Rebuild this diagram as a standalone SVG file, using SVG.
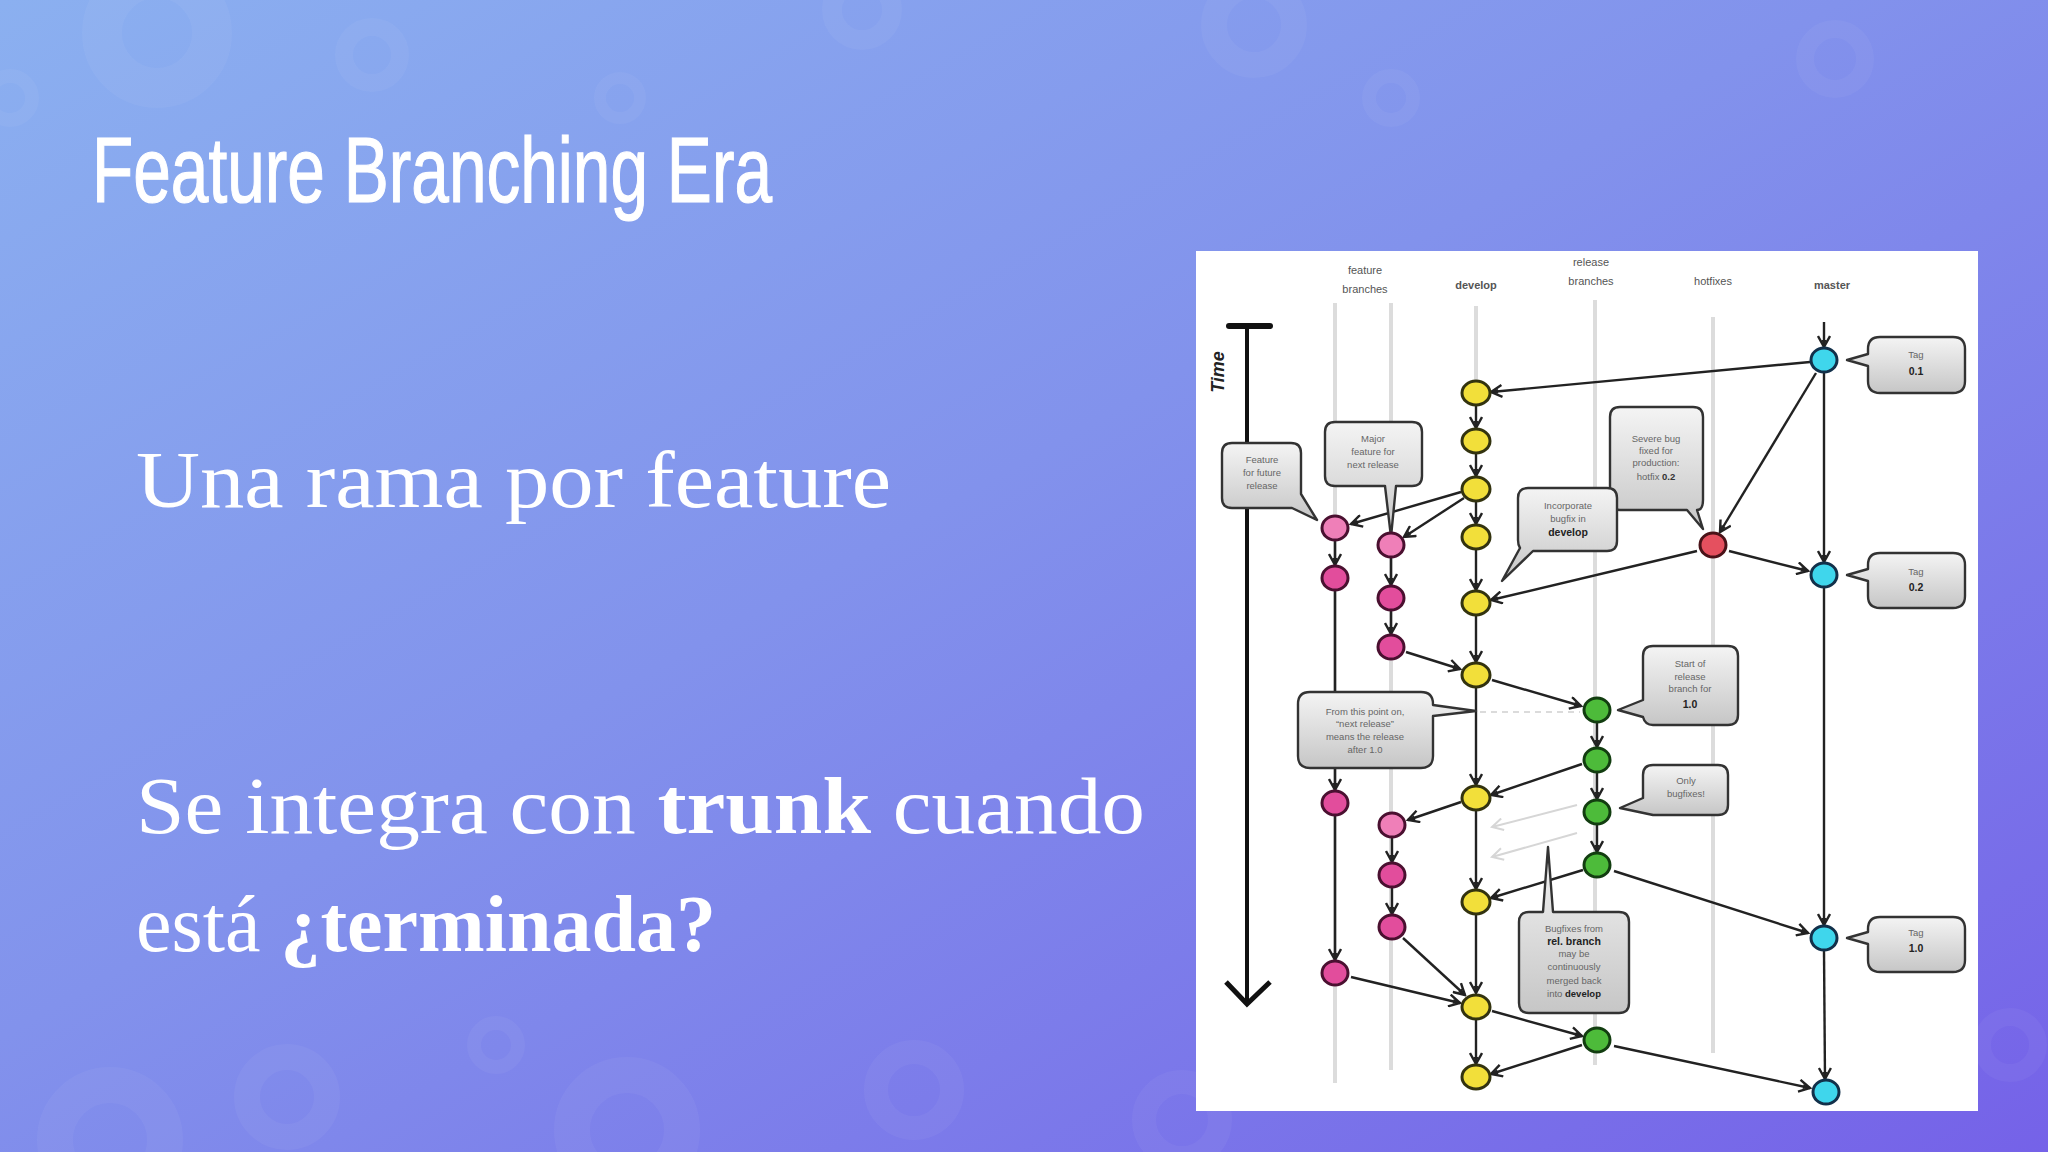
<svg xmlns="http://www.w3.org/2000/svg" width="2048" height="1152" viewBox="0 0 2048 1152">
<defs>
<linearGradient id="bg" x1="0" y1="0" x2="1" y2="1">
<stop offset="0" stop-color="#8bb0f0"/>
<stop offset="0.45" stop-color="#8292ec"/>
<stop offset="1" stop-color="#7562e8"/>
</linearGradient>
<linearGradient id="cg" x1="0" y1="0" x2="0" y2="1">
<stop offset="0" stop-color="#f4f4f4"/>
<stop offset="1" stop-color="#c6c6c6"/>
</linearGradient>
<marker id="ah" viewBox="0 0 14 14" refX="12" refY="7" markerWidth="14" markerHeight="14" markerUnits="userSpaceOnUse" orient="auto">
<path d="M1,1 L12,7 L1,13" fill="none" stroke="#222" stroke-width="2.4"/>
<path d="M5,4.5 L12,7 L5,9.5 Z" fill="#222"/>
</marker>
<marker id="ahl" viewBox="0 0 14 14" refX="12" refY="7" markerWidth="14" markerHeight="14" markerUnits="userSpaceOnUse" orient="auto">
<path d="M1,1 L12,7 L1,13" fill="none" stroke="#d6d6d6" stroke-width="2"/>
</marker>
</defs>
<style>
.ring{fill:none;stroke:#ffffff;stroke-opacity:0.045}
.title{font-family:"Liberation Sans",Arial,sans-serif;fill:#ffffff;stroke:#ffffff;stroke-width:1.2}
.body{font-family:"Liberation Serif","Times New Roman",serif;fill:#ffffff;font-size:80px}
.b{font-weight:bold}
.hdr{font-family:"Liberation Sans",Arial,sans-serif;font-size:11px;fill:#555;text-anchor:middle}
.lane{stroke:#dcdcdc;stroke-width:4;fill:none}
.c{stroke:#222;stroke-width:2.4;fill:none;marker-end:url(#ah)}
.faint{stroke:#d6d6d6;stroke-width:2;fill:none;marker-end:url(#ahl)}
.call{fill:url(#cg);stroke:#333;stroke-width:2.4;stroke-linejoin:round}
.ct{font-family:"Liberation Sans",Arial,sans-serif;font-size:9.5px;fill:#666;text-anchor:middle}
.ctb{font-family:"Liberation Sans",Arial,sans-serif;font-size:10.5px;fill:#222;font-weight:bold;text-anchor:middle}
.dev{fill:#f2df3a;stroke:#33330f;stroke-width:3}
.feat{fill:#e24d9c;stroke:#4a1030;stroke-width:3}
.featl{fill:#ef7fb8;stroke:#4a1030;stroke-width:3}
.rel{fill:#4dbb3a;stroke:#123d10;stroke-width:3}
.hot{fill:#e5505f;stroke:#4a1218;stroke-width:3}
.mas{fill:#3fd6ec;stroke:#12304a;stroke-width:3}
</style>

<rect x="0" y="0" width="2048" height="1152" fill="url(#bg)"/>
<g id="decor">
<circle class="ring" cx="157" cy="33" r="55" stroke-width="40"/>
<circle class="ring" cx="372" cy="55" r="28" stroke-width="18"/>
<circle class="ring" cx="620" cy="98" r="20" stroke-width="12"/>
<circle class="ring" cx="10" cy="98" r="22" stroke-width="14"/>
<circle class="ring" cx="862" cy="10" r="30" stroke-width="20"/>
<circle class="ring" cx="1391" cy="98" r="22" stroke-width="14"/>
<circle class="ring" cx="1835" cy="59" r="30" stroke-width="18"/>
<circle class="ring" cx="1254" cy="25" r="40" stroke-width="26"/>
<circle class="ring" cx="496" cy="1045" r="22" stroke-width="14"/>
<circle class="ring" cx="287" cy="1097" r="40" stroke-width="26"/>
<circle class="ring" cx="110" cy="1140" r="55" stroke-width="36"/>
<circle class="ring" cx="914" cy="1090" r="38" stroke-width="24"/>
<circle class="ring" cx="627" cy="1130" r="55" stroke-width="36"/>
<circle class="ring" cx="1182" cy="1120" r="38" stroke-width="24"/>
<circle class="ring" cx="2010" cy="1045" r="28" stroke-width="18"/>
</g>

<g id="slide-text">
<text class="title" x="92" y="202" font-size="92" textLength="680" lengthAdjust="spacingAndGlyphs">Feature Branching Era</text>
<text class="body" x="136" y="507" textLength="755" lengthAdjust="spacingAndGlyphs">Una rama por feature</text>
<text class="body" x="136" y="833" textLength="1009" lengthAdjust="spacingAndGlyphs">Se integra con <tspan class="b">trunk</tspan> cuando</text>
<text class="body" x="136" y="951" textLength="580" lengthAdjust="spacingAndGlyphs">está <tspan class="b">¿terminada?</tspan></text>
</g>

<g id="panel">
<rect x="1196" y="251" width="782" height="860" fill="#ffffff"/>
</g>

<g id="headers">
<text class="hdr" x="1365" y="274">feature</text>
<text class="hdr" x="1365" y="293">branches</text>
<text class="hdr b" x="1476" y="289" fill="#333">develop</text>
<text class="hdr" x="1591" y="266">release</text>
<text class="hdr" x="1591" y="285">branches</text>
<text class="hdr" x="1713" y="285">hotfixes</text>
<text class="hdr b" x="1832" y="289" fill="#333">master</text>
</g>

<g id="lanes">
<line class="lane" x1="1335" y1="303" x2="1335" y2="1083"/>
<line class="lane" x1="1391" y1="303" x2="1391" y2="1070"/>
<line class="lane" x1="1476" y1="306" x2="1476" y2="385"/>
<line class="lane" x1="1595" y1="300" x2="1595" y2="1065"/>
<line class="lane" x1="1713" y1="317" x2="1713" y2="1053"/>
</g>

<g id="time-axis">
<line x1="1229" y1="326" x2="1270" y2="326" stroke="#111" stroke-width="6" stroke-linecap="round"/>
<line x1="1247" y1="326" x2="1247" y2="1003" stroke="#111" stroke-width="4"/>
<polyline points="1226,982 1247,1004 1270,982" fill="none" stroke="#111" stroke-width="5"/>
<text x="1224" y="372" transform="rotate(-90 1224 372)" font-family="Liberation Sans, Arial, sans-serif" font-size="18" font-weight="bold" font-style="italic" fill="#222" text-anchor="middle">Time</text>
</g>

<g id="connectors">
<line class="c" x1="1824" y1="322" x2="1824" y2="347"/>
<line class="c" x1="1810" y1="362" x2="1491" y2="392"/>
<line class="c" x1="1816" y1="373" x2="1720" y2="532"/>
<line class="c" x1="1824" y1="373" x2="1824" y2="562"/>
<line class="c" x1="1729" y1="551" x2="1808" y2="571"/>
<line class="c" x1="1697" y1="551" x2="1491" y2="600"/>
<line class="c" x1="1824" y1="588" x2="1824" y2="925"/>
<line class="c" x1="1824" y1="951" x2="1825" y2="1079"/>
<line class="c" x1="1614" y1="871" x2="1808" y2="933"/>
<line class="c" x1="1614" y1="1046" x2="1810" y2="1088"/>

<line class="c" x1="1476" y1="406" x2="1476" y2="428"/>
<line class="c" x1="1476" y1="454" x2="1476" y2="476"/>
<line class="c" x1="1476" y1="502" x2="1476" y2="524"/>
<line class="c" x1="1476" y1="550" x2="1476" y2="590"/>
<line class="c" x1="1476" y1="616" x2="1476" y2="662"/>
<line class="c" x1="1476" y1="688" x2="1476" y2="785"/>
<line class="c" x1="1476" y1="811" x2="1476" y2="889"/>
<line class="c" x1="1476" y1="915" x2="1476" y2="993"/>
<line class="c" x1="1476" y1="1020" x2="1476" y2="1064"/>

<line class="c" x1="1461" y1="492" x2="1351" y2="524"/>
<line class="c" x1="1464" y1="498" x2="1404" y2="537"/>
<line class="c" x1="1335" y1="541" x2="1335" y2="565"/>
<line class="c" x1="1335" y1="591" x2="1335" y2="790"/>
<line class="c" x1="1335" y1="816" x2="1335" y2="960"/>
<line class="c" x1="1351" y1="977" x2="1460" y2="1003"/>
<line class="c" x1="1391" y1="558" x2="1391" y2="585"/>
<line class="c" x1="1391" y1="611" x2="1391" y2="634"/>
<line class="c" x1="1406" y1="652" x2="1460" y2="669"/>
<line class="c" x1="1461" y1="802" x2="1408" y2="820"/>
<line class="c" x1="1392" y1="838" x2="1392" y2="862"/>
<line class="c" x1="1392" y1="888" x2="1392" y2="914"/>
<line class="c" x1="1403" y1="938" x2="1465" y2="995"/>

<line class="c" x1="1492" y1="680" x2="1581" y2="706"/>
<line x1="1480" y1="712" x2="1580" y2="712" stroke="#d0d0d0" stroke-width="1.5" stroke-dasharray="6,5"/>
<line class="c" x1="1597" y1="723" x2="1597" y2="747"/>
<line class="c" x1="1597" y1="773" x2="1597" y2="799"/>
<line class="c" x1="1597" y1="825" x2="1597" y2="852"/>
<line class="c" x1="1582" y1="764" x2="1491" y2="795"/>
<line class="faint" x1="1577" y1="805" x2="1492" y2="827"/>
<line class="faint" x1="1577" y1="833" x2="1492" y2="857"/>
<line class="c" x1="1583" y1="870" x2="1491" y2="898"/>
<line class="c" x1="1492" y1="1011" x2="1582" y2="1036"/>
<line class="c" x1="1582" y1="1045" x2="1491" y2="1074"/>
</g>

<g id="callout-feature-future">
<path class="call" d="M1232,443 H1291 Q1301,443 1301,453 V494 L1317,520 L1292,508 H1232 Q1222,508 1222,498 V453 Q1222,443 1232,443 Z"/>
<text class="ct" x="1262" y="463">Feature</text>
<text class="ct" x="1262" y="476">for future</text>
<text class="ct" x="1262" y="489">release</text>
</g>
<g id="callout-major-feature">
<path class="call" d="M1335,422 H1412 Q1422,422 1422,432 V476 Q1422,486 1412,486 H1396 L1391,537 L1385,486 H1335 Q1325,486 1325,476 V432 Q1325,422 1335,422 Z"/>
<text class="ct" x="1373" y="442">Major</text>
<text class="ct" x="1373" y="455">feature for</text>
<text class="ct" x="1373" y="468">next release</text>
</g>
<g id="callout-severe-bug">
<path class="call" d="M1620,407 H1693 Q1703,407 1703,417 V500 Q1703,510 1697,510 L1703,529 L1687,510 H1620 Q1610,510 1610,500 V417 Q1610,407 1620,407 Z"/>
<text class="ct" x="1656" y="442">Severe bug</text>
<text class="ct" x="1656" y="454">fixed for</text>
<text class="ct" x="1656" y="466">production:</text>
<text class="ct" x="1656" y="480">hotfix <tspan font-weight="bold" fill="#333">0.2</tspan></text>
</g>
<g id="callout-incorporate">
<path class="call" d="M1528,488 H1607 Q1617,488 1617,498 V541 Q1617,551 1607,551 H1533 L1502,581 L1520,548 Q1518,545 1518,540 V498 Q1518,488 1528,488 Z"/>
<text class="ct" x="1568" y="509">Incorporate</text>
<text class="ct" x="1568" y="522">bugfix in</text>
<text class="ctb" x="1568" y="536">develop</text>
</g>
<g id="callout-tag01">
<path class="call" d="M1880,337 H1953 Q1965,337 1965,349 V381 Q1965,393 1953,393 H1880 Q1868,393 1868,381 V366 L1847,360 L1868,354 V349 Q1868,337 1880,337 Z"/>
<text class="ct" x="1916" y="358">Tag</text>
<text class="ctb" x="1916" y="375" font-size="13">0.1</text>
</g>
<g id="callout-tag02">
<path class="call" d="M1880,553 H1953 Q1965,553 1965,565 V596 Q1965,608 1953,608 H1880 Q1868,608 1868,596 V581 L1847,575 L1868,569 V565 Q1868,553 1880,553 Z"/>
<text class="ct" x="1916" y="575">Tag</text>
<text class="ctb" x="1916" y="591" font-size="13">0.2</text>
</g>
<g id="callout-tag10">
<path class="call" d="M1880,917 H1953 Q1965,917 1965,929 V960 Q1965,972 1953,972 H1880 Q1868,972 1868,960 V944 L1847,938 L1868,932 V929 Q1868,917 1880,917 Z"/>
<text class="ct" x="1916" y="936">Tag</text>
<text class="ctb" x="1916" y="952" font-size="13">1.0</text>
</g>
<g id="callout-start-release">
<path class="call" d="M1653,646 H1728 Q1738,646 1738,656 V715 Q1738,725 1728,725 H1653 Q1645,725 1643,717 L1618,710 L1643,700 V656 Q1643,646 1653,646 Z"/>
<text class="ct" x="1690" y="667">Start of</text>
<text class="ct" x="1690" y="680">release</text>
<text class="ct" x="1690" y="692">branch for</text>
<text class="ctb" x="1690" y="708" font-size="12">1.0</text>
</g>
<g id="callout-only-bugfixes">
<path class="call" d="M1653,765 H1718 Q1728,765 1728,775 V805 Q1728,815 1718,815 H1653 L1620,808 L1643,798 V775 Q1643,765 1653,765 Z"/>
<text class="ct" x="1686" y="784">Only</text>
<text class="ct" x="1686" y="797">bugfixes!</text>
</g>
<g id="callout-next-release">
<path class="call" d="M1310,692 H1421 Q1433,692 1433,704 V705 L1476,711 L1433,716 V756 Q1433,768 1421,768 H1310 Q1298,768 1298,756 V704 Q1298,692 1310,692 Z"/>
<text class="ct" x="1365" y="715">From this point on,</text>
<text class="ct" x="1365" y="727">“next release”</text>
<text class="ct" x="1365" y="740">means the release</text>
<text class="ct" x="1365" y="753">after 1.0</text>
</g>
<g id="callout-bugfixes-rel">
<path class="call" d="M1529,912 H1543 L1548,847 L1553,912 H1619 Q1629,912 1629,922 V1003 Q1629,1013 1619,1013 H1529 Q1519,1013 1519,1003 V922 Q1519,912 1529,912 Z"/>
<text class="ct" x="1574" y="932">Bugfixes from</text>
<text class="ctb" x="1574" y="945">rel. branch</text>
<text class="ct" x="1574" y="957">may be</text>
<text class="ct" x="1574" y="970">continuously</text>
<text class="ct" x="1574" y="984">merged back</text>
<text class="ct" x="1574" y="997">into <tspan font-weight="bold" fill="#222">develop</tspan></text>
</g>

<g id="nodes-develop">
<ellipse class="dev" cx="1476" cy="393" rx="14" ry="12"/>
<ellipse class="dev" cx="1476" cy="441" rx="14" ry="12"/>
<ellipse class="dev" cx="1476" cy="489" rx="14" ry="12"/>
<ellipse class="dev" cx="1476" cy="537" rx="14" ry="12"/>
<ellipse class="dev" cx="1476" cy="603" rx="14" ry="12"/>
<ellipse class="dev" cx="1476" cy="675" rx="14" ry="12"/>
<ellipse class="dev" cx="1476" cy="798" rx="14" ry="12"/>
<ellipse class="dev" cx="1476" cy="902" rx="14" ry="12"/>
<ellipse class="dev" cx="1476" cy="1007" rx="14" ry="12"/>
<ellipse class="dev" cx="1476" cy="1077" rx="14" ry="12"/>
</g>
<g id="nodes-feature">
<ellipse class="featl" cx="1335" cy="528" rx="13" ry="12"/>
<ellipse class="feat" cx="1335" cy="578" rx="13" ry="12"/>
<ellipse class="feat" cx="1335" cy="803" rx="13" ry="12"/>
<ellipse class="feat" cx="1335" cy="973" rx="13" ry="12"/>
<ellipse class="featl" cx="1391" cy="545" rx="13" ry="12"/>
<ellipse class="feat" cx="1391" cy="598" rx="13" ry="12"/>
<ellipse class="feat" cx="1391" cy="647" rx="13" ry="12"/>
<ellipse class="featl" cx="1392" cy="825" rx="13" ry="12"/>
<ellipse class="feat" cx="1392" cy="875" rx="13" ry="12"/>
<ellipse class="feat" cx="1392" cy="927" rx="13" ry="12"/>
</g>
<g id="nodes-release">
<ellipse class="rel" cx="1597" cy="710" rx="13" ry="12"/>
<ellipse class="rel" cx="1597" cy="760" rx="13" ry="12"/>
<ellipse class="rel" cx="1597" cy="812" rx="13" ry="12"/>
<ellipse class="rel" cx="1597" cy="865" rx="13" ry="12"/>
<ellipse class="rel" cx="1597" cy="1040" rx="13" ry="12"/>
</g>
<g id="nodes-hotfix">
<ellipse class="hot" cx="1713" cy="545" rx="13" ry="12"/>
</g>
<g id="nodes-master">
<ellipse class="mas" cx="1824" cy="360" rx="13" ry="12"/>
<ellipse class="mas" cx="1824" cy="575" rx="13" ry="12"/>
<ellipse class="mas" cx="1824" cy="938" rx="13" ry="12"/>
<ellipse class="mas" cx="1826" cy="1092" rx="13" ry="12"/>
</g>
</svg>
